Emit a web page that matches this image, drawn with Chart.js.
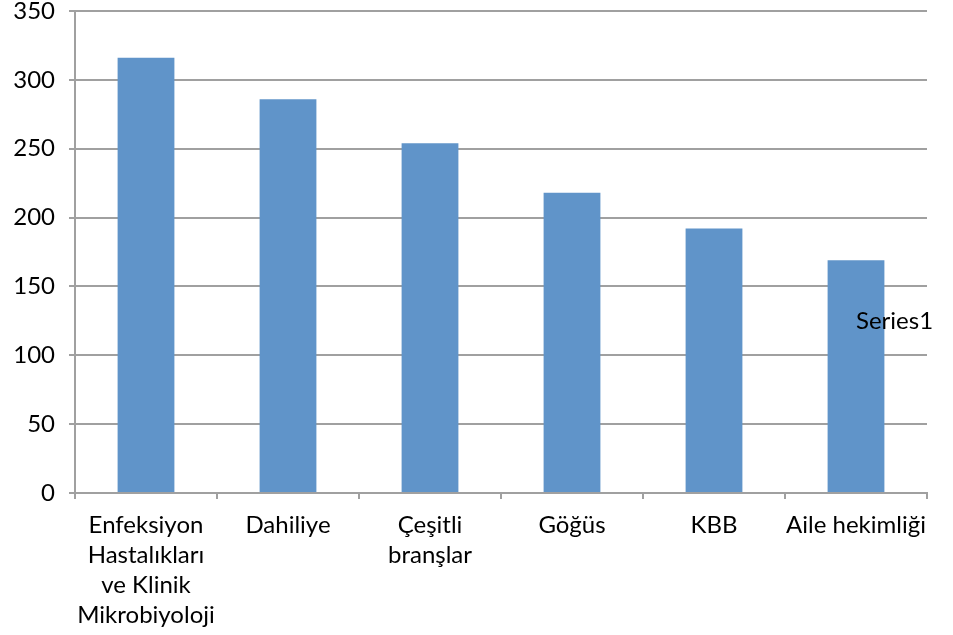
<!DOCTYPE html>
<html><head><meta charset="utf-8">
<script src="https://cdn.jsdelivr.net/npm/chart.js@4/dist/chart.umd.min.js"></script>
<style>html,body{margin:0;padding:0;background:#fff}#wrap{width:953px;height:635px}</style>
</head><body><div id="wrap"><canvas id="c" width="953" height="635"></canvas></div>
<script>
const categories = [
  ["Enfeksiyon","Hastalıkları","ve Klinik","Mikrobiyoloji"],
  "Dahiliye",
  ["Çeşitli","branşlar"],
  "Göğüs",
  "KBB",
  "Aile hekimliği"
];
const seriesName = "Series1";
const values = [316, 286, 254, 218, 192, 169];
const yTicks = [0, 50, 100, 150, 200, 250, 300, 350];

const FONT = "Lato, 'Open Sans', sans-serif";
const legendText = {
  id: 'legendText',
  afterDraw(chart) {
    const ctx = chart.ctx;
    ctx.save();
    ctx.font = "24px " + FONT;
    ctx.fillStyle = "#000";
    ctx.textBaseline = "middle";
    ctx.textAlign = "left";
    ctx.fillText(chart.data.datasets[0].label, 856, 321);
    ctx.restore();
  }
};

new Chart(document.getElementById('c'), {
  type: 'bar',
  data: {
    labels: categories,
    datasets: [{
      label: seriesName,
      data: values,
      backgroundColor: '#6094c9',
      borderWidth: 0,
      barPercentage: 0.4,
      categoryPercentage: 1.0
    }]
  },
  options: {
    responsive: false,
    animation: false,
    layout: { padding: { top: 11, right: 26, left: 0, bottom: 0 } },
    plugins: { legend: { display: false }, tooltip: { enabled: false } },
    scales: {
      x: {
        grid: { offset: true, drawOnChartArea: false, drawTicks: true, tickLength: 6, color: '#a0a0a0', lineWidth: 2 },
        border: { color: '#a0a0a0', width: 2 },
        ticks: { color: '#000', font: { family: FONT, size: 24, lineHeight: 1.25 }, padding: 11, maxRotation: 0, autoSkip: false },
        afterFit(s) { s.height = 142; s.paddingLeft = 0; s.paddingRight = 0; }
      },
      y: {
        min: 0, max: 350,
        afterBuildTicks(s) { s.ticks = yTicks.map(v => ({ value: v })); },
        grid: { color: '#a0a0a0', lineWidth: 2, drawTicks: true, tickLength: 6 },
        border: { color: '#a0a0a0', width: 2 },
        ticks: { color: '#000', font: { family: FONT, size: 24 }, padding: 14 },
        afterFit(s) { s.width = 75; s.paddingTop = 0; s.paddingBottom = 0; }
      }
    }
  },
  plugins: [legendText]
});
</script></body></html>
